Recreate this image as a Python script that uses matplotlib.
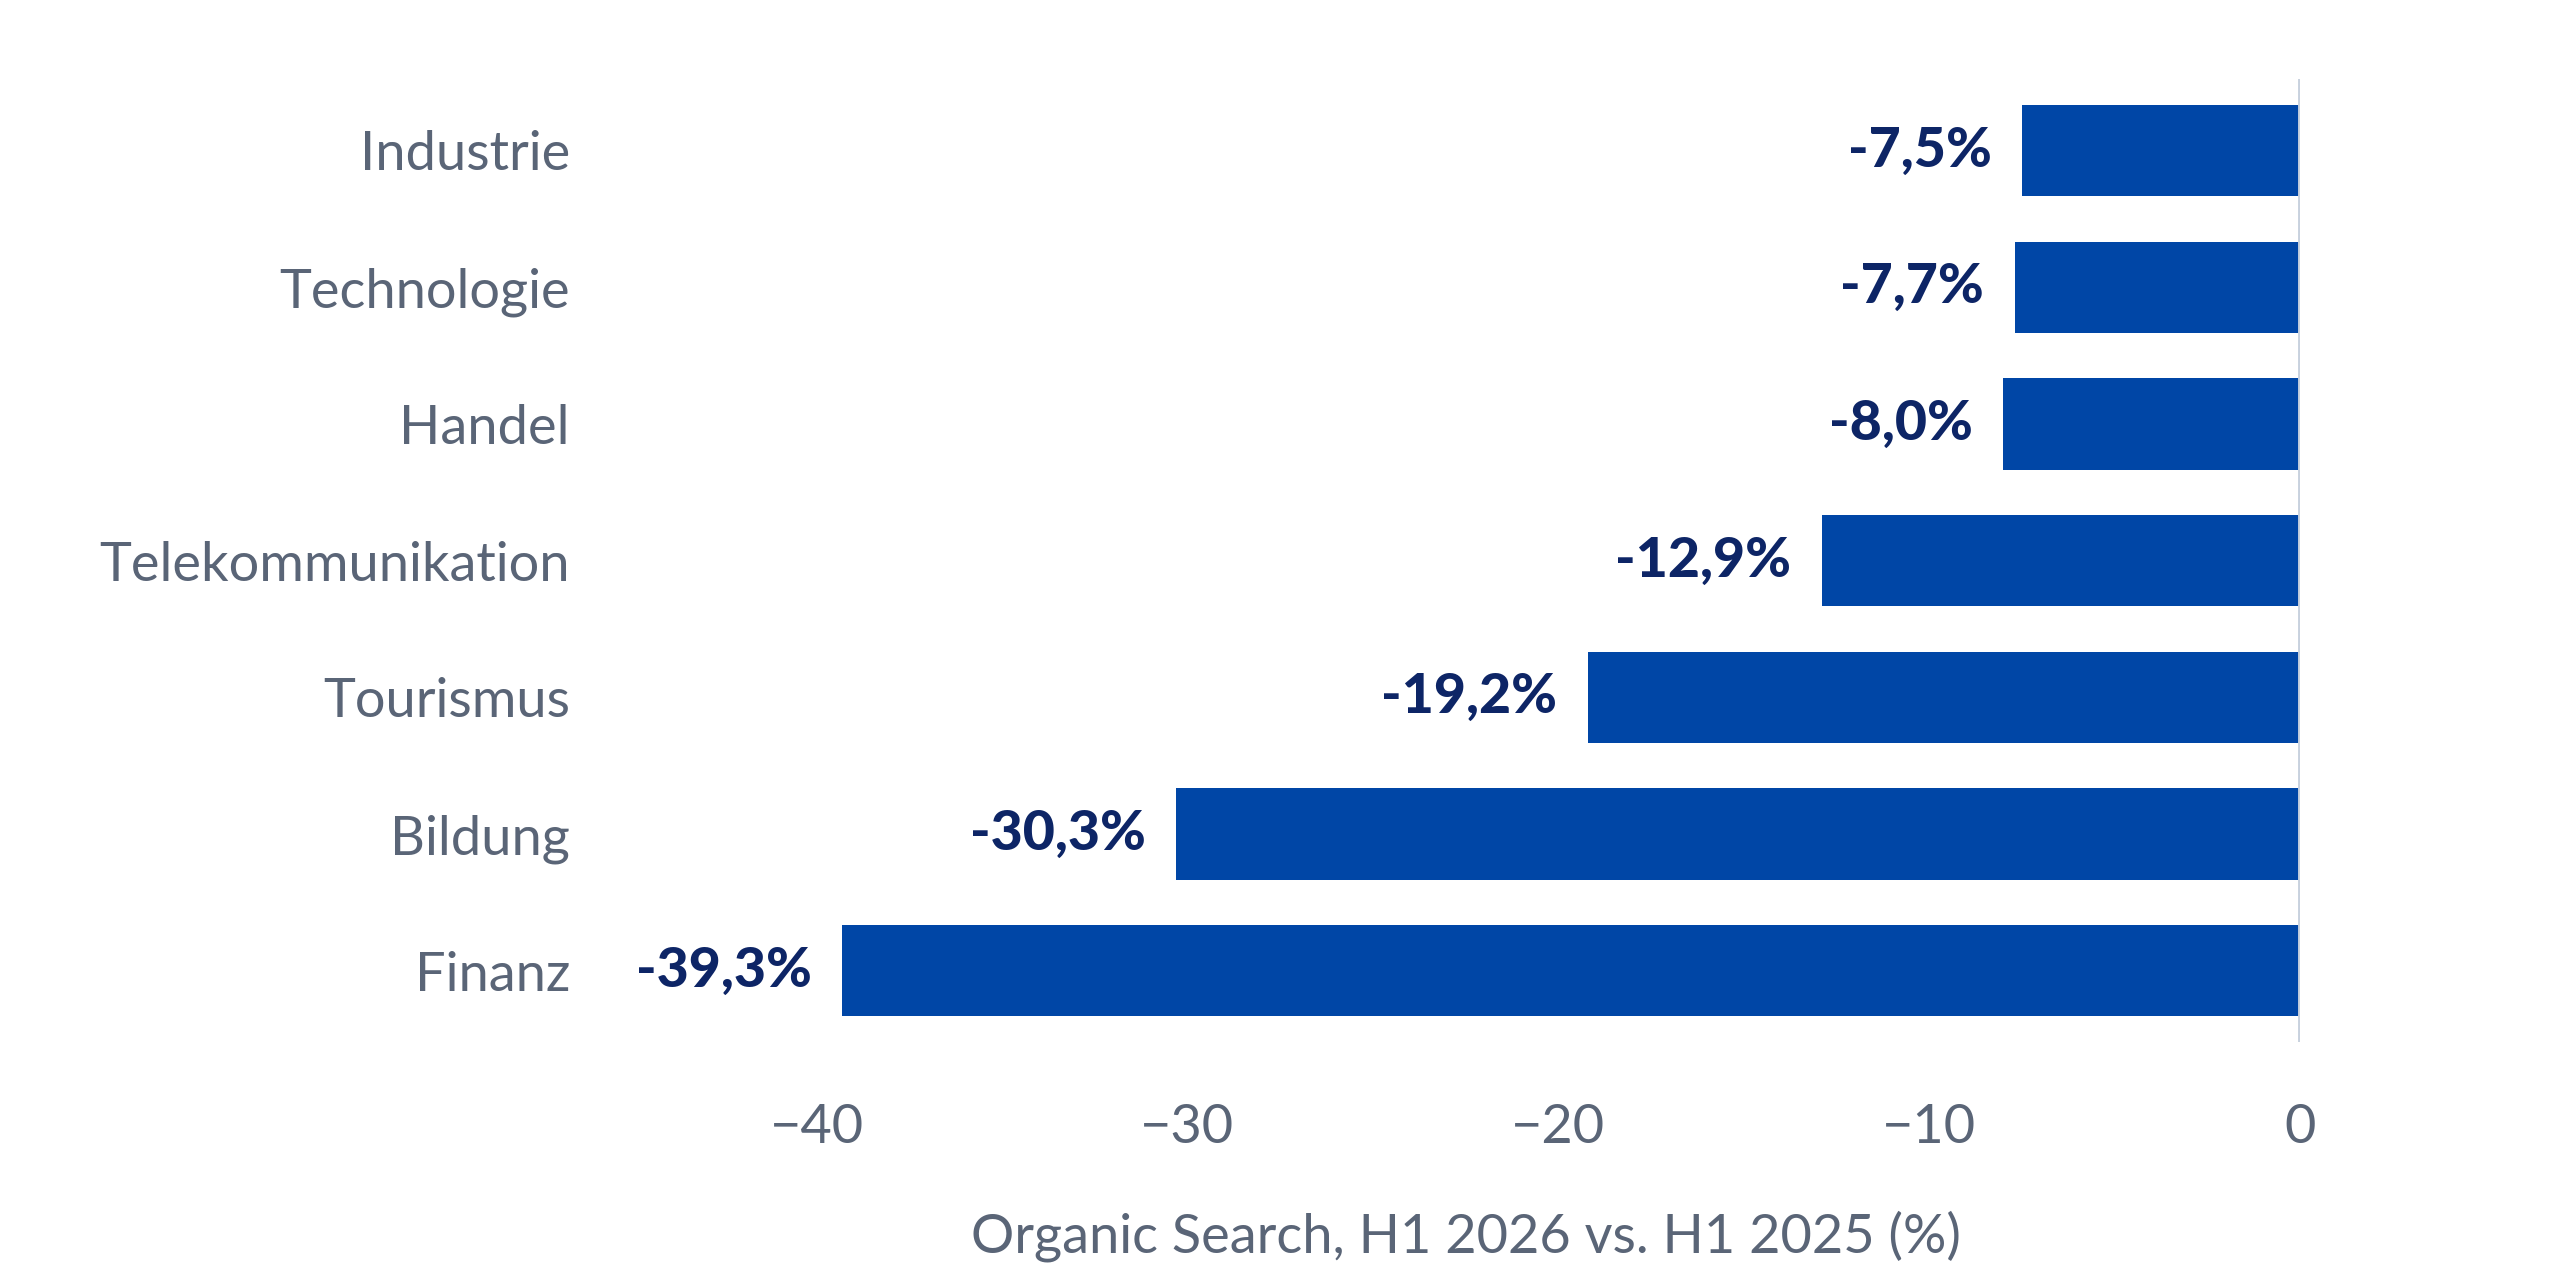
import matplotlib
matplotlib.use("Agg")
import matplotlib.pyplot as plt

categories = ["Industrie", "Technologie", "Handel", "Telekommunikation",
              "Tourismus", "Bildung", "Finanz"]
values = [-7.5, -7.7, -8.0, -12.9, -19.2, -30.3, -39.3]
xticks = [-40, -30, -20, -10, 0]
xlabel = "Organic Search, H1 2026 vs. H1 2025 (%)"

BAR = "#0046a6"
LABEL = "#0d2566"
GREY = "#5a6577"

plt.rcParams["font.family"] = ["Lato", "DejaVu Sans"]

fig = plt.figure(figsize=(12.8, 6.4), dpi=200)
ax = fig.add_axes([0.2465, 0.186, 0.652, 0.752])

pos = list(range(len(categories)))[::-1]
ax.barh(pos, values, height=0.667, color=BAR, zorder=2)
ax.axvline(0, color="#c8d1de", lw=1.4, zorder=3)

for y, v in zip(pos, values):
    txt = f"{v:.1f}%".replace(".", ",")
    ax.annotate(txt, (v, y), xytext=(-11, 0), textcoords="offset points",
                ha="right", va="center", fontsize=20, fontweight="black",
                color=LABEL)

ax.set_xlim(-45, 0)
ax.set_ylim(-0.52, 6.52)
ax.set_yticks(pos)
ax.set_yticklabels(categories, fontsize=19.5, color=GREY)
ax.set_xticks(xticks)
ax.tick_params(axis="x", labelsize=19.5, colors=GREY, length=0, pad=22)
ax.tick_params(axis="y", length=0, pad=22)
ax.set_xlabel(xlabel, fontsize=19.5, color=GREY, labelpad=21)
for s in ax.spines.values():
    s.set_visible(False)

fig.savefig("out.png")
